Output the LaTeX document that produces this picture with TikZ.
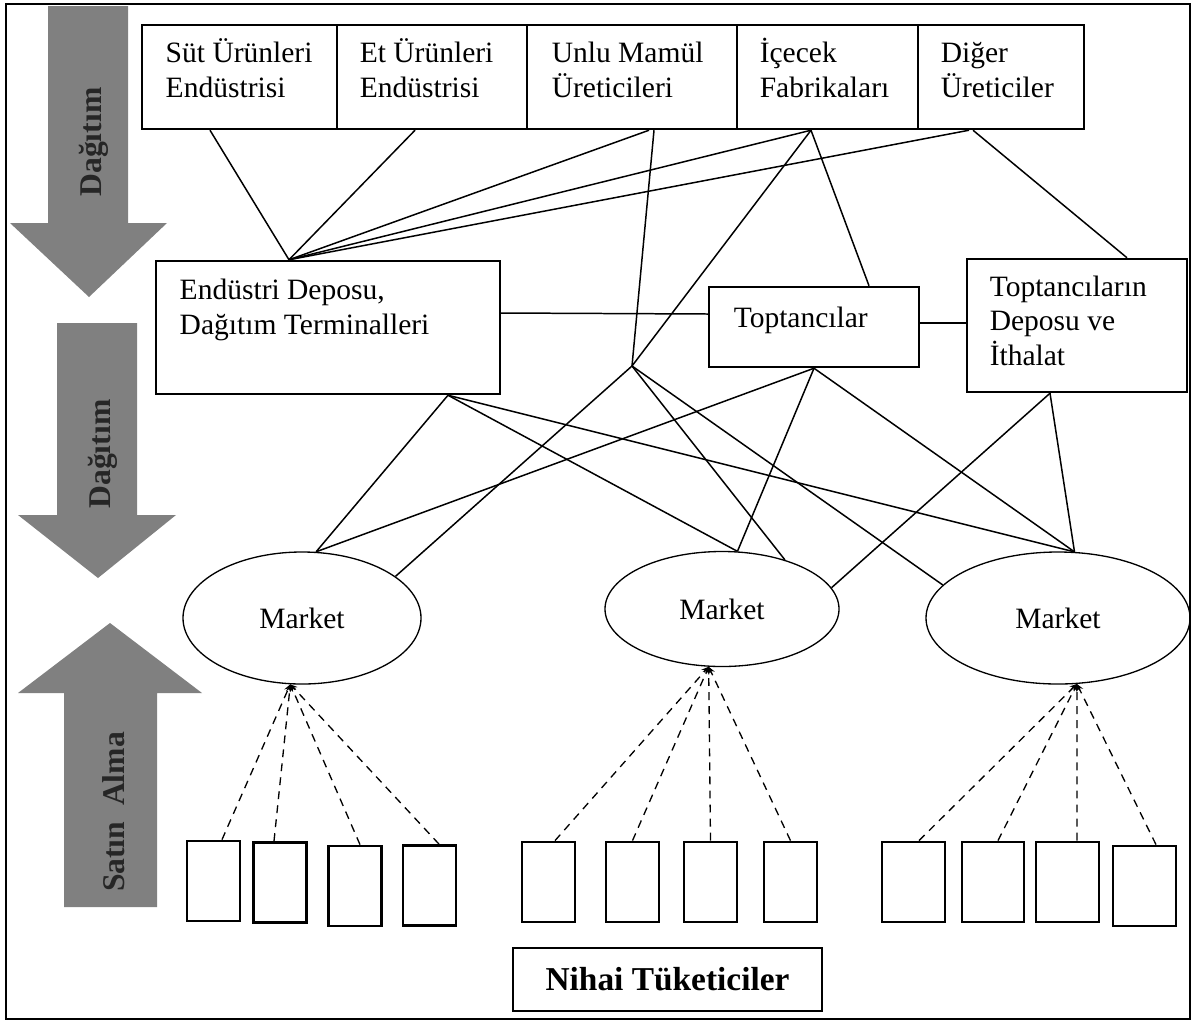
\documentclass[tikz,border=0pt]{standalone}
\usepackage{fontspec}
\setmainfont{Liberation Serif}
\usetikzlibrary{shapes.geometric}
\definecolor{flowgray}{HTML}{808080}
\definecolor{flowtext}{HTML}{262626}
\begin{document}
\begin{tikzpicture}[line width=0.85pt, >=stealth,
  every node/.style={font=\fontsize{16.8}{19.6}\selectfont},
  box/.style={draw, line width=1.4pt, inner sep=0pt},
  txt/.style={anchor=base west, align=left, inner sep=0pt},
  mkt/.style={draw, ellipse, line width=0.75pt, inner sep=0pt},
  cons/.style={draw, line width=1.6pt, inner sep=0pt, minimum width=1.06cm, minimum height=1.60cm},
  buy/.style={->, line width=0.75pt, dash pattern=on 4.5pt off 3.5pt},
  flowlbl/.style={rotate=90, text=flowtext, inner sep=0pt, font=\fontsize{18}{20}\selectfont\bfseries}]
  \useasboundingbox (0,0) rectangle (23.88,-20.46);
  % side arrows
  \fill[flowgray] (0.96,-0.12) -- (2.56,-0.12) -- (2.56,-4.46) -- (3.34,-4.46) -- (1.78,-5.94) -- (0.20,-4.46) -- (0.96,-4.46) -- cycle;
  \fill[flowgray] (1.14,-6.46) -- (2.74,-6.46) -- (2.74,-10.30) -- (3.52,-10.30) -- (1.96,-11.56) -- (0.36,-10.30) -- (1.14,-10.30) -- cycle;
  \fill[flowgray] (1.28,-18.14) -- (3.14,-18.14) -- (3.14,-13.86) -- (4.04,-13.86) -- (2.20,-12.46) -- (0.36,-13.86) -- (1.28,-13.86) -- cycle;
  \node[flowlbl] (dag1) at (1.88,-2.84) {Dağıtım};
  \node[flowlbl] (dag2) at (2.06,-9.08) {Dağıtım};
  \node[flowlbl] (satin) at (2.28,-16.24) {Satın~~Alma};
  \draw[line width=1.5pt] (0.12,-0.08) rectangle (23.80,-20.38);
  % producers
  \node[box, minimum width=3.90cm, minimum height=2.08cm] (sut) at (4.79,-1.54) {};
  \node[box, minimum width=3.80cm, minimum height=2.08cm] (et) at (8.64,-1.54) {};
  \node[box, minimum width=4.20cm, minimum height=2.08cm] (unlu) at (12.64,-1.54) {};
  \node[box, minimum width=3.62cm, minimum height=2.08cm] (icecek) at (16.55,-1.54) {};
  \node[box, minimum width=3.32cm, minimum height=2.08cm] (diger) at (20.02,-1.54) {};
  \node[txt] (sutT) at (3.30,-1.94) {Süt Ürünleri\\Endüstrisi};
  \node[txt] (etT) at (7.18,-1.94) {Et Ürünleri\\Endüstrisi};
  \node[txt] (unluT) at (11.02,-1.94) {Unlu Mamül\\Üreticileri};
  \node[txt] (icecekT) at (15.18,-1.94) {İçecek\\Fabrikaları};
  \node[txt] (digerT) at (18.80,-1.94) {Diğer\\Üreticiler};
  % middle level
  \node[box, minimum width=6.88cm, minimum height=2.66cm] (ed) at (6.56,-6.55) {};
  \node[box, minimum width=4.20cm, minimum height=1.60cm] (topt) at (16.28,-6.54) {};
  \node[box, minimum width=4.40cm, minimum height=2.66cm] (topd) at (21.54,-6.51) {};
  \node[txt] (edT) at (3.58,-6.68) {Endüstri Deposu,\\Dağıtım Terminalleri};
  \node[txt] (toptT) at (14.66,-6.54) {Toptancılar};
  \node[txt] (topdT) at (19.78,-7.30) {Toptancıların\\Deposu ve\\İthalat};
  \coordinate (hub) at (12.64,-7.32);
  % markets
  \node[mkt, minimum width=4.76cm, minimum height=2.64cm] (m1) at (6.04,-12.36) {Market};
  \node[mkt, minimum width=4.68cm, minimum height=2.30cm] (m2) at (14.44,-12.18) {Market};
  \node[mkt, minimum width=5.28cm, minimum height=2.64cm] (m3) at (21.16,-12.36) {Market};
  % supply links
  \coordinate (edtop) at ([xshift=-0.78cm]ed.north);
  \coordinate (edbot) at ([xshift=2.40cm]ed.south);
  \coordinate (icbot) at ([xshift=-0.33cm]icecek.south);
  \coordinate (tdbot) at ([xshift=-0.54cm]topd.south);
  \draw ([xshift=-0.59cm]sut.south) -- (edtop);
  \draw ([xshift=-0.34cm]et.south) -- (edtop);
  \draw ([xshift=0.34cm]unlu.south) -- (edtop);
  \draw (icbot) -- (edtop);
  \draw ([xshift=-0.64cm]diger.south) -- (edtop);
  \draw ([xshift=0.44cm]unlu.south) -- (hub);
  \draw (icbot) -- (hub);
  \draw (icbot) -- ([xshift=1.10cm]topt.north);
  \draw ([xshift=-0.56cm]diger.south) -- ([xshift=1.00cm]topd.north);
  \draw ([yshift=0.29cm]ed.east) -- ([yshift=0.26cm]topt.west);
  \draw ([yshift=0.08cm]topt.east) -- ([yshift=0.05cm]topd.west);
  \draw (hub) -- (m1.24);
  \draw (hub) -- (m2.38);
  \draw (hub) -- (m3.164);
  \draw (edbot) -- (m1.78);
  \draw (edbot) -- (m2.75);
  \draw (edbot) -- (m3.76);
  \draw (topt.south) -- (m1.78);
  \draw (topt.south) -- (m2.75);
  \draw (topt.south) -- (m3.76);
  \draw (tdbot) -- (m2.11);
  \draw (tdbot) -- (m3.76);
  % consumers
  \node[cons] (c11) at (4.27,-17.62) {};
  \node[cons] (c12) at (5.60,-17.65) {};
  \node[cons] (c13) at (7.10,-17.72) {};
  \node[cons] (c14) at (8.59,-17.71) {};
  \node[cons] (c21) at (10.97,-17.64) {};
  \node[cons] (c22) at (12.65,-17.64) {};
  \node[cons] (c23) at (14.21,-17.64) {};
  \node[cons] (c24) at (15.81,-17.64) {};
  \node[cons, minimum width=1.26cm] (c31) at (18.27,-17.64) {};
  \node[cons, minimum width=1.24cm] (c32) at (19.86,-17.64) {};
  \node[cons, minimum width=1.26cm] (c33) at (21.35,-17.64) {};
  \node[cons, minimum width=1.26cm] (c34) at (22.89,-17.72) {};
  \draw[buy] ([xshift=0.17cm]c11.north) -- (m1.260);
  \draw[buy] ([xshift=-0.12cm]c12.north) -- (m1.260);
  \draw[buy] ([xshift=0.10cm]c13.north) -- (m1.260);
  \draw[buy] ([xshift=0.19cm]c14.north) -- (m1.260);
  \draw[buy] ([xshift=0.13cm]c21.north) -- (m2.-103);
  \draw[buy] (c22.north) -- (m2.-103);
  \draw[buy] (c23.north) -- (m2.-103);
  \draw[buy] (c24.north) -- (m2.-103);
  \draw[buy] ([xshift=0.11cm]c31.north) -- (m3.-74);
  \draw[buy] ([xshift=0.10cm]c32.north) -- (m3.-74);
  \draw[buy] ([xshift=0.19cm]c33.north) -- (m3.-74);
  \draw[buy] ([xshift=0.23cm]c34.north) -- (m3.-74);
  \node[draw, line width=1.5pt, minimum width=6.18cm, minimum height=1.26cm, font=\fontsize{19}{22}\selectfont\bfseries] (nihai) at (13.35,-19.59) {Nihai Tüketiciler};
\end{tikzpicture}
\end{document}
